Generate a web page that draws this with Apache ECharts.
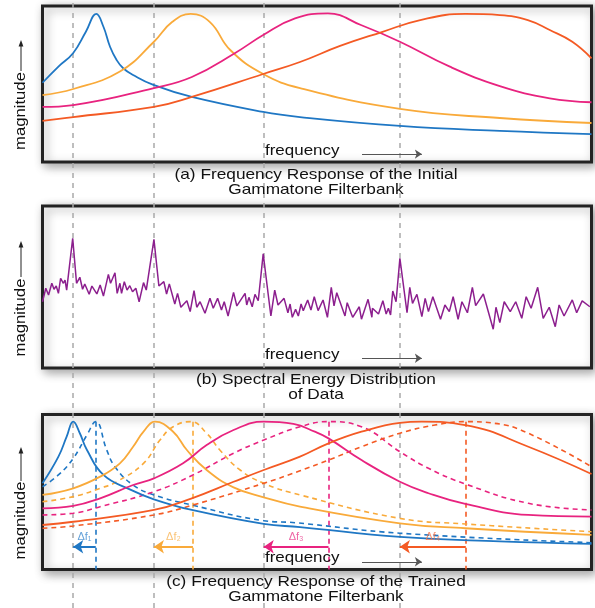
<!DOCTYPE html>
<html><head><meta charset="utf-8">
<script src="https://cdn.jsdelivr.net/npm/echarts@6/dist/echarts.min.js"></script>
<style>html,body{margin:0;padding:0;background:#fff}#c{width:595px;height:608px}</style>
</head><body><div id="c"></div>
<script>
// ---- data (frequency 0..100, magnitude 0..100) ----
const centerFreqs = [5.6, 20.3, 40.3, 65.1];      // spectral peaks of data / trained centres
const initialFreqs = [9.7, 27.4, 52.1, 77.1];     // initial filter centres
const peakLevelC = [95.4, 95.4, 95.4, 95.4];
const arrowLevel = 14.7;
const deltaLabelLevel = 21;
const deltaLabels = ['Δf₁', 'Δf₂', 'Δf₃', 'Δf₄'];

// (a) initial filterbank
const aBlue = [[0,50.8],[2.9,61.2],[5.6,69.9],[7.9,83.5],[9.8,94.9],[11.1,86.7],[12.3,73.9],[13.5,65.4],[14.7,60.1],[16.5,55.8],[20.2,49.4],[27.2,41.7],[40.2,32.1],[46.9,28.8],[65.1,23.1],[83.3,19.9],[100,17.9]];
const aYellow = [[0,42.9],[5.6,46.8],[14.1,58.0],[20.3,77.1],[23.6,89.7],[27.0,94.9],[30.5,89.7],[34.2,71.8],[40.2,56.4],[46.9,47.4],[65.1,34.0],[83.3,28.2],[100,25.0]];
const aPink = [[0,35.3],[5.6,36.5],[20.3,47.4],[27.2,54.5],[35.1,69.9],[40.2,81.4],[46.0,92.1],[52.0,95.3],[58.0,87.8],[65.1,77.1],[74.2,61.1],[83.3,48.7],[92.4,40.8],[100,38.3]];
const aOrange = [[0,26.3],[5.6,28.8],[20.3,35.3],[27.2,41.7],[40.2,56.4],[46.9,64.1],[54.2,74.4],[61.8,83.3],[68.8,91.0],[77.0,94.9],[83.3,94.2],[88.4,91.0],[92.4,84.6],[96.5,77.1],[100,66.5]];

// (b) spectral energy distribution of data
const spectrum = [[0,40.9],[0.6,49.2],[1.1,45.1],[1.7,52.3],[2.1,48.6],[2.5,50.6],[2.9,46.1],[3.3,55.4],[3.8,52.3],[4.1,54.3],[4.4,48.1],[5.5,80.1],[6.2,52.3],[6.8,56.0],[7.3,48.6],[7.7,51.9],[8.5,45.5],[9.0,50.6],[9.9,45.7],[10.5,51.2],[11.1,44.4],[12.0,57.8],[12.4,52.3],[13.2,58.8],[13.6,46.1],[14.1,52.3],[14.4,46.1],[14.9,53.3],[15.4,48.1],[15.9,50.8],[16.4,47.1],[17.0,49.2],[17.6,40.9],[18.4,52.7],[18.9,48.1],[20.3,79.4],[21.2,50.6],[22.1,53.3],[22.6,45.7],[23.1,51.9],[24.1,39.5],[24.6,46.1],[25.2,37.5],[26.3,41.5],[26.9,34.8],[27.6,47.7],[28.1,37.5],[28.7,40.9],[29.6,33.8],[30.5,43.0],[31.1,36.9],[31.9,43.0],[32.6,35.8],[33.1,40.9],[33.8,32.1],[34.8,46.7],[35.4,38.3],[36.9,46.1],[37.2,38.9],[37.6,43.6],[38.2,37.8],[38.7,45.5],[39.3,41.5],[40.2,70.4],[41.6,32.1],[42.3,48.1],[42.9,38.9],[44.0,43.0],[44.7,34.1],[45.1,39.5],[45.5,31.3],[46.1,36.2],[46.6,32.1],[47.1,39.5],[47.5,35.4],[48.3,42.0],[48.9,35.8],[49.5,44.0],[50.2,35.4],[51.1,42.0],[51.9,31.3],[52.6,49.8],[53.1,38.3],[53.6,46.5],[55.1,32.1],[55.5,40.3],[56.5,31.3],[57.7,37.8],[58.1,30.1],[59.3,42.4],[60.0,31.3],[60.1,36.9],[61.2,33.3],[62.0,41.5],[62.6,33.3],[63.0,36.9],[63.4,32.7],[63.8,47.5],[64.4,40.9],[65.1,67.7],[66.4,34.1],[66.9,49.8],[67.4,39.9],[68.2,45.5],[69.1,31.7],[69.7,43.0],[70.3,34.8],[71.1,44.0],[72.5,30.1],[73.3,38.9],[74.1,34.8],[74.8,44.0],[75.7,30.1],[76.4,40.9],[77.4,34.1],[78.3,49.8],[78.9,38.5],[80.3,45.7],[82.1,23.9],[82.6,37.5],[83.3,28.0],[84.1,40.9],[85.2,34.8],[86.2,40.9],[87.3,30.7],[88.1,44.0],[89.0,36.9],[90.2,49.8],[91.2,30.7],[92.3,37.5],[93.4,25.5],[94.1,38.9],[95.0,32.1],[96.5,42.0],[97.3,34.1],[98.3,41.4],[99.7,37.8]];

// (c) trained (solid) and initial (dashed) filterbank
const cBlueSolid = [[0,55.6],[2.9,72.8],[4.4,85.7],[5.6,95.4],[6.8,87.9],[8.1,77.1],[11.1,61.0],[15.9,51.7],[20.3,45.3],[27.2,38.4],[40.3,29.4],[46.9,27.4],[65.1,21.0],[83.3,18.1],[100,16.5]];
const cBlueDash = [[0,53.4],[2.9,61.0],[5.6,71.7],[8.1,86.8],[9.7,95.4],[11.7,77.1],[13.2,66.3],[16.5,54.5],[20.3,48.1],[27.2,41.6],[40.3,31.5],[46.0,30.2],[65.1,23.4],[100,17.3]];
const cYellowSolid = [[0,48.1],[5.6,52.4],[10.5,59.9],[14.1,68.5],[16.5,79.2],[18.4,88.9],[20.5,95.4],[23.8,88.9],[26.3,77.1],[29.9,64.2],[34.8,53.0],[40.3,46.6],[46.9,40.6],[65.1,29.8],[77.0,26.6],[100,22.3]];
const cYellowDash = [[0,43.7],[5.6,47.0],[10.5,52.4],[13.5,56.6],[18.4,68.5],[21.4,83.5],[23.8,92.1],[27.0,95.4],[29.9,87.9],[32.3,77.1],[36.0,64.2],[40.3,55.6],[46.9,48.1],[65.1,33.0],[77.0,29.4],[100,24.4]];
const cPinkSolid = [[0,39.5],[5.6,41.0],[10.5,45.9],[16.5,54.5],[20.3,58.8],[25.6,68.5],[29.9,80.3],[34.8,90.0],[40.3,95.4],[45.7,93.9],[49.6,88.9],[52.1,84.6],[58.1,70.6],[65.1,56.6],[70.3,49.2],[77.0,42.3],[88.5,35.2],[100,34.1]];
const cPinkDash = [[0,35.2],[5.6,36.3],[10.5,40.5],[20.3,50.2],[27.4,61.0],[34.8,75.0],[40.3,83.5],[46.9,92.1],[52.1,95.4],[58.1,92.1],[65.1,76.0],[70.3,65.3],[77.0,55.2],[88.5,42.7],[100,38.4]];
const cOrangeSolid = [[0,28.7],[5.6,30.8],[20.3,38.4],[27.2,45.9],[34.8,56.6],[40.3,64.2],[46.9,72.8],[52.1,81.4],[58.1,88.9],[65.1,94.6],[69.1,95.4],[77.0,93.2],[88.5,79.2],[100,61.6]];
const cOrangeDash = [[0,26.6],[5.6,28.1],[20.3,35.2],[27.4,41.6],[40.3,55.6],[46.9,63.7],[52.1,70.6],[58.1,79.2],[65.1,87.9],[71.5,93.2],[77.0,95.4],[82.4,94.3],[88.5,87.9],[100,66.3]];

// frequency arrow (axis hint) in each panel
const freqArrow = [[58.2, 69.1]];
const freqArrowLevel = [5.1, 6.0, 5.0];

// ---- styles ----
const BLUE = '#1f77c4', YELLOW = '#f9aa3a', PINK = '#e8237f', ORANGE = '#f45a24', PURPLE = '#8c1f8e';
const filterColors = [BLUE, YELLOW, PINK, ORANGE];
const labelColors = ['#3d8ad0', '#f9b454', '#ea3d8e', '#f5734a'];
const FONT = '"Liberation Sans", Arial, Helvetica, sans-serif';

const chart = echarts.init(document.getElementById('c'), null, {renderer: 'canvas'});

const frame = {
  show: true, backgroundColor: '#fff', borderColor: '#232323', borderWidth: 3,
  shadowColor: 'rgba(0,0,0,0.35)', shadowBlur: 10, shadowOffsetX: 3, shadowOffsetY: 3
};
const grids = [
  Object.assign({left: 42.5, top: 6, width: 549, height: 156}, frame),
  Object.assign({left: 42.5, top: 206, width: 549, height: 162}, frame),
  Object.assign({left: 42.5, top: 414.5, width: 549, height: 155}, frame),
  {left: 42.5, top: 0, width: 549, height: 608, show: false}
];
const xAxes = grids.map((g, i) => ({type: 'value', gridIndex: i, min: 0, max: 100, show: false}));
const yAxes = grids.map((g, i) => ({type: 'value', gridIndex: i, min: 0, max: i === 3 ? 1 : 100, show: false}));

function curve(data, color, gi, dashed) {
  return {
    type: 'line', data, xAxisIndex: gi, yAxisIndex: gi, smooth: 0.45,
    showSymbol: false, symbol: 'none', silent: true, z: 3,
    lineStyle: {color, width: dashed ? 1.6 : 1.8, type: dashed ? [5, 4] : 'solid'}
  };
}

const series = [];
// grey dashed guides through the whole figure
series.push({
  type: 'lines', coordinateSystem: 'cartesian2d', xAxisIndex: 3, yAxisIndex: 3, silent: true, z: 1,
  symbol: 'none',
  lineStyle: {color: '#a9a9a9', width: 1.5, type: [5, 5], opacity: 1},
  data: centerFreqs.map(f => ({coords: [[f, 0], [f, 1]]}))
});
// (a)
[aBlue, aYellow, aPink, aOrange].forEach((d, i) => series.push(curve(d, filterColors[i], 0, false)));
// (b)
series.push({type: 'line', data: spectrum, xAxisIndex: 1, yAxisIndex: 1, showSymbol: false, symbol: 'none',
  silent: true, z: 3, lineStyle: {color: PURPLE, width: 1.5}});
// (c)
[cBlueDash, cYellowDash, cPinkDash, cOrangeDash].forEach((d, i) => series.push(curve(d, filterColors[i], 2, true)));
[cBlueSolid, cYellowSolid, cPinkSolid, cOrangeSolid].forEach((d, i) => series.push(curve(d, filterColors[i], 2, false)));
// coloured vertical dashed lines at initial centres
initialFreqs.forEach((f, i) => series.push({
  type: 'lines', coordinateSystem: 'cartesian2d', xAxisIndex: 2, yAxisIndex: 2, silent: true, z: 3,
  symbol: 'none', lineStyle: {color: filterColors[i], width: 1.6, type: [5, 4], opacity: 1},
  data: [{coords: [[f, peakLevelC[i]], [f, 0]]}]
}));
// Δf arrows
initialFreqs.forEach((f, i) => series.push({
  type: 'lines', coordinateSystem: 'cartesian2d', xAxisIndex: 2, yAxisIndex: 2, silent: true, z: 4,
  symbol: ['none', 'arrow'], symbolSize: 10,
  lineStyle: {color: filterColors[i], width: 2, opacity: 1},
  data: [{coords: [[f, arrowLevel], [centerFreqs[i], arrowLevel]]}]
}));
// Δf labels
series.push({
  type: 'scatter', xAxisIndex: 2, yAxisIndex: 2, symbolSize: 1, silent: true, z: 5,
  itemStyle: {color: 'rgba(0,0,0,0)'},
  label: {show: true, position: 'inside', formatter: '{b}', fontSize: 11, fontFamily: FONT},
  data: initialFreqs.map((f, i) => ({
    name: deltaLabels[i], value: [(f + centerFreqs[i]) / 2, deltaLabelLevel],
    label: {color: labelColors[i]}
  }))
});
// "frequency →" arrows
[0, 1, 2].forEach(gi => series.push({
  type: 'lines', coordinateSystem: 'cartesian2d', xAxisIndex: gi, yAxisIndex: gi, silent: true, z: 4,
  symbol: ['none', 'arrow'], symbolSize: 7,
  lineStyle: {color: '#555', width: 1.2, opacity: 1},
  data: freqArrow.map(a => ({coords: [[a[0], freqArrowLevel[gi]], [a[1], freqArrowLevel[gi]]]}))
}));

// ---- texts ----
function txt(x, y, text, opts) {
  opts = opts || {};
  return {
    type: 'text', x, y, z: 20, silent: true,
    rotation: opts.rotation || 0, scaleX: opts.scaleX || 1.19,
    style: {
      text, fill: '#111', font: (opts.size || 14.5) + 'px ' + FONT,
      align: opts.align || 'center', verticalAlign: 'middle',
      textAlign: opts.align || 'center', textVerticalAlign: 'middle'
    }
  };
}
const graphics = [];
const captions = [
  ['(a) Frequency Response of the Initial', 'Gammatone Filterbank', 175, 190],
  ['(b) Spectral Energy Distribution', 'of Data', 380, 395],
  ['(c) Frequency Response of the Trained', 'Gammatone Filterbank', 582, 597]
];
captions.forEach(c => { graphics.push(txt(316, c[2], c[0])); graphics.push(txt(316, c[3], c[1])); });
[151, 355, 557.5].forEach(y => graphics.push(txt(265, y, 'frequency', {align: 'left', scaleX: 1.17})));
const mag = [[111, 71, 44], [317.5, 277, 245], [520.5, 481, 451]];
mag.forEach(m => {
  graphics.push(txt(21, m[0], 'magnitude', {rotation: Math.PI / 2, size: 14, scaleX: 1.19}));
  graphics.push({type: 'line', z: 20, silent: true, shape: {x1: 21, y1: m[1], x2: 21, y2: m[2]}, style: {stroke: '#222', lineWidth: 1}});
  graphics.push({type: 'polygon', z: 20, silent: true, shape: {points: [[21, m[2] - 4], [18.6, m[2] + 2.5], [23.4, m[2] + 2.5]]}, style: {fill: '#222'}});
});

chart.setOption({
  animation: false,
  backgroundColor: '#fff',
  grid: grids, xAxis: xAxes, yAxis: yAxes,
  series: series,
  graphic: graphics
});
</script></body></html>
